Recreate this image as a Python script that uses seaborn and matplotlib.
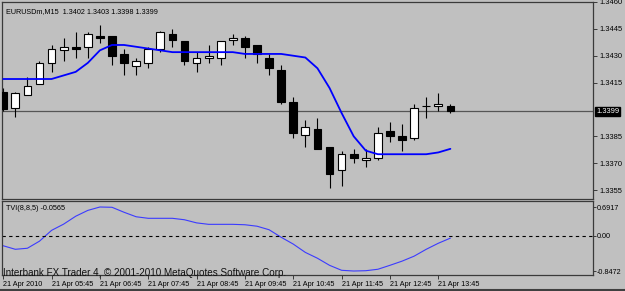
import numpy as np
import pandas as pd
import matplotlib
matplotlib.use("Agg")
import matplotlib.pyplot as plt
import seaborn as sns

# ---- data ----
opens  = [1.3410, 1.3401, 1.3408, 1.3414, 1.3426, 1.3433, 1.3435, 1.3435, 1.3441, 1.3441,
          1.3431, 1.3424, 1.3426, 1.3434, 1.3442, 1.3438, 1.3426, 1.3429, 1.3429, 1.3439,
          1.3440, 1.3436, 1.3429, 1.3422, 1.3404, 1.3386, 1.3389, 1.3379, 1.3366, 1.3375,
          1.3372, 1.3373, 1.3388, 1.3385, 1.3384, 1.3402, 1.3402, 1.3402]
highs  = [1.3412, 1.3410, 1.3418, 1.3427, 1.3436, 1.3440, 1.3443, 1.3443, 1.3447, 1.3441,
          1.3434, 1.3429, 1.3435, 1.3444, 1.3445, 1.3438, 1.3432, 1.3436, 1.3438, 1.3442,
          1.3441, 1.3436, 1.3431, 1.3425, 1.3407, 1.3394, 1.3395, 1.3379, 1.3377, 1.3378,
          1.3378, 1.3390, 1.3393, 1.3392, 1.3403, 1.3407, 1.3409, 1.3403]
lows   = [1.3399, 1.3396, 1.3408, 1.3414, 1.3421, 1.3427, 1.3429, 1.3429, 1.3437, 1.3425,
          1.3419, 1.3419, 1.3423, 1.3432, 1.3435, 1.3425, 1.3421, 1.3426, 1.3425, 1.3436,
          1.3429, 1.3426, 1.3419, 1.3403, 1.3384, 1.3379, 1.3378, 1.3356, 1.3357, 1.3370,
          1.3368, 1.3372, 1.3382, 1.3377, 1.3383, 1.3395, 1.3399, 1.3398]
closes = [1.3400, 1.3409, 1.3413, 1.3426, 1.3434, 1.3435, 1.3434, 1.3442, 1.3440, 1.3430,
          1.3426, 1.3427, 1.3434, 1.3443, 1.3439, 1.3427, 1.3429, 1.3430, 1.3438, 1.3440,
          1.3435, 1.3431, 1.3423, 1.3404, 1.3387, 1.3390, 1.3378, 1.3364, 1.3375, 1.3373,
          1.3373, 1.3387, 1.3385, 1.3383, 1.3401, 1.3402, 1.3403, 1.3399]
ma_line = [1.3417, 1.3417, 1.3417, 1.3417, 1.3417, 1.3419, 1.3421, 1.3426, 1.3433, 1.3436,
           1.3436, 1.3435, 1.3434, 1.3433, 1.3432, 1.3432, 1.3432, 1.3432, 1.3432, 1.3432,
           1.3431, 1.3431, 1.3431, 1.3431, 1.3430, 1.3429, 1.3423, 1.3412, 1.3398, 1.3385,
           1.3377, 1.3375, 1.3375, 1.3375, 1.3375, 1.3375, 1.3376, 1.3378]
tvi = [-0.24, -0.325, -0.30, -0.13, 0.13, 0.28, 0.47, 0.61, 0.6917, 0.685,
       0.565, 0.457, 0.42, 0.42, 0.42, 0.385, 0.31, 0.275, 0.275, 0.275,
       0.265, 0.23, 0.145, -0.036, -0.20, -0.40, -0.54, -0.71, -0.83, -0.8472,
       -0.84, -0.805, -0.71, -0.61, -0.49, -0.325, -0.18, -0.0565]
time_tick_pos = [0, 4, 8, 12, 16, 20, 24, 28, 32, 36]
time_tick_labels = ["21 Apr 2010", "21 Apr 05:45", "21 Apr 06:45", "21 Apr 07:45",
                    "21 Apr 08:45", "21 Apr 09:45", "21 Apr 10:45", "21 Apr 11:45",
                    "21 Apr 12:45", "21 Apr 13:45"]
price_ticks = [1.3355, 1.3370, 1.3385, 1.3415, 1.3430, 1.3445, 1.3460]
tvi_ticks = [-0.8472, 0.0, 0.6917]
tvi_tick_labels = ["-0.8472", "0.00", "0.6917"]

df = pd.DataFrame({"i": np.arange(len(opens)), "open": opens, "high": highs,
                   "low": lows, "close": closes, "ma": ma_line, "tvi": tvi})

sns.set_style("white")
plt.rcParams["font.family"] = ["Liberation Sans", "DejaVu Sans"]

BG = "#c0c0c0"
EDGE = "#3a3a3a"
W, H = 625, 291
fig = plt.figure(figsize=(W / 100, H / 100), dpi=100, facecolor=BG)

def box(x0, y0, x1, y1):
    return [x0 / W, 1 - y1 / H, (x1 - x0) / W, (y1 - y0) / H]

ax = fig.add_axes(box(2, 2, 593, 199))
ax2 = fig.add_axes(box(2, 201, 593, 275))
XL = (-0.1, 48.8)

for a in (ax, ax2):
    a.set_facecolor(BG)
    for s in a.spines.values():
        s.set_color(EDGE)
        s.set_linewidth(0.9)
    a.set_xlim(*XL)

# ---- candles ----
up = df["close"] >= df["open"]
ax.vlines(df["i"], df["low"], df["high"], color="black", lw=0.8, zorder=2)
bottoms = np.minimum(df["open"], df["close"])
heights = np.abs(df["close"] - df["open"])
ax.bar(df["i"], heights, bottom=bottoms, width=0.64,
       color=np.where(up, "white", "black"), edgecolor="black", linewidth=0.8, zorder=3)

sns.lineplot(data=df, x="i", y="ma", ax=ax, color="#0000ff", lw=1.3, zorder=4)
ax.axhline(closes[-1], color="#555555", lw=0.9, zorder=1)

ax.set_ylim(1.3350, 1.3460)
ax.yaxis.tick_right()
ax.set_yticks(price_ticks)
ax.set_yticklabels([f"{v:.4f}" for v in price_ticks])
ax.tick_params(axis="y", right=True, length=3, width=0.7, color=EDGE, pad=1.5,
               labelsize=5.4, labelcolor="black")
ax.set_xticks([])
ax.set_xlabel("")
ax.set_ylabel("")
ax.text(1.005, closes[-1], f"{closes[-1]:.4f}", transform=ax.get_yaxis_transform(),
        ha="left", va="center", fontsize=5.4, color="white",
        bbox=dict(boxstyle="square,pad=0.15", fc="black", ec="black"))
ax.text(4 / 591, 1 - 6 / 197, "EURUSDm,M15  1.3402 1.3403 1.3398 1.3399",
        transform=ax.transAxes, ha="left", va="top", fontsize=5.2, color="black")

# ---- TVI panel ----
sns.lineplot(data=df, x="i", y="tvi", ax=ax2, color="#3b3bff", lw=0.8)
ax2.axhline(0, color="black", lw=0.8, ls=(0, (3, 3)))
ax2.set_ylim(-0.943, 0.836)
ax2.yaxis.tick_right()
ax2.set_yticks(tvi_ticks)
ax2.set_yticklabels(tvi_tick_labels)
ax2.tick_params(axis="y", right=True, length=2, width=0.7, color=EDGE, pad=1,
                labelsize=5.2, labelcolor="black")
ax2.set_xticks(time_tick_pos)
ax2.set_xticklabels(time_tick_labels, ha="left")
ax2.tick_params(axis="x", bottom=True, length=3, width=0.7, color=EDGE, pad=1,
                labelsize=5.2, labelcolor="black")
ax2.set_xlabel("")
ax2.set_ylabel("")
ax2.text(4 / 591, 1 - 4 / 74, "TVI(8,8,5) -0.0565", transform=ax2.transAxes,
         ha="left", va="top", fontsize=5.2, color="black")

fig.text(3 / W, 1 - 276 / H, "Interbank FX Trader 4, \u00a9 2001-2010 MetaQuotes Software Corp.",
         ha="left", va="baseline", fontsize=7.1, color="#111111")

# outer frame line (bottom)
fig.add_artist(plt.Line2D([0, 1], [1 / H, 1 / H], transform=fig.transFigure,
                          color="#404040", lw=1.5))

fig.savefig("out.png", dpi=100, facecolor=BG)
